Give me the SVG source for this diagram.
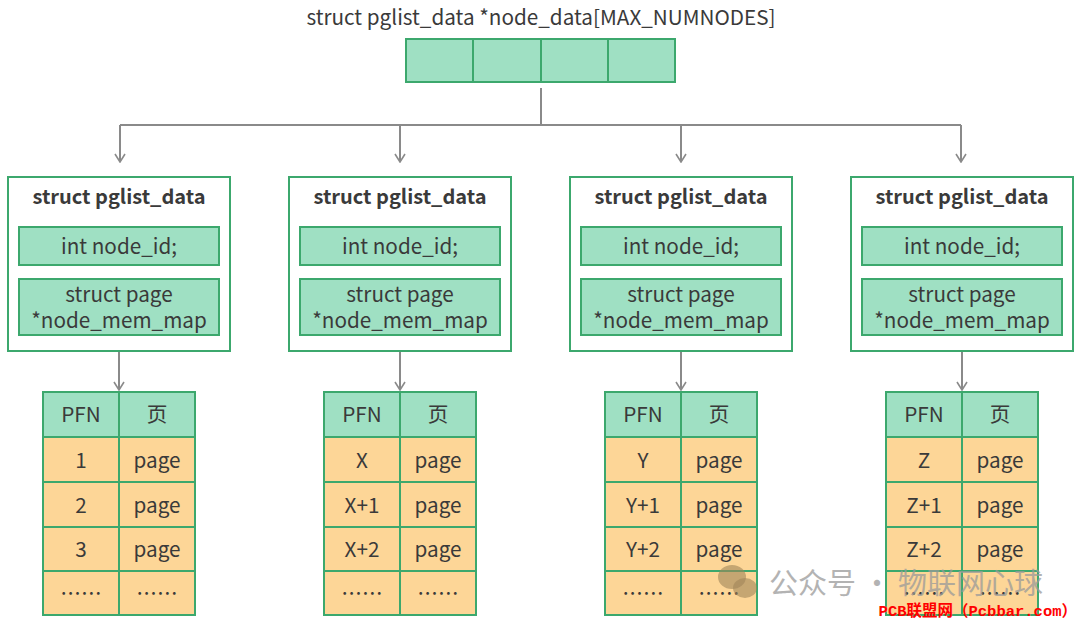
<svg xmlns="http://www.w3.org/2000/svg" width="1080" height="627" viewBox="0 0 1080 627">
<defs>
<style>
text{font-family:"Noto Sans CJK SC","Noto Sans",sans-serif;fill:#3a3a3a;font-size:20.7px;text-anchor:middle;dominant-baseline:central}
.b{font-weight:bold;font-size:20px}
.g{fill:#9fe0c3;stroke:#3ca86d;stroke-width:2}
.o{fill:#fdd697;stroke:#3ca86d;stroke-width:2}
.w{fill:#fff;stroke:#3ca86d;stroke-width:2}
.c{fill:none;stroke:#8a8a8a;stroke-width:2}
.wm{fill:#9a9a9a;opacity:0.75;font-size:29px}
.red{fill:#ff0000;font-family:"Liberation Mono","DejaVu Sans Mono","Noto Sans CJK SC",monospace;font-size:15.5px;font-weight:bold;text-anchor:end}
</style>
<marker id="ad" viewBox="0 0 12 12" refX="6" refY="11" markerWidth="12" markerHeight="12" markerUnits="userSpaceOnUse" orient="0">
<path d="M1 3 L6 11 L11 3" fill="none" stroke="#8a8a8a" stroke-width="1.6"/>
</marker>
</defs>
<rect width="1080" height="627" fill="#fff"/>

<g id="array">
<text x="541" y="16">struct pglist_data *node_data[MAX_NUMNODES]</text>
<rect class="g" x="406" y="39" width="269" height="43"/>
<line x1="473" y1="39" x2="473" y2="82" stroke="#3ca86d" stroke-width="2"/>
<line x1="541" y1="39" x2="541" y2="82" stroke="#3ca86d" stroke-width="2"/>
<line x1="608" y1="39" x2="608" y2="82" stroke="#3ca86d" stroke-width="2"/>
</g>

<g id="connectors">
<path class="c" d="M541 88 V125"/>
<path class="c" d="M120 125 H961"/>
<path class="c" d="M120 125 V162" marker-end="url(#ad)"/>
<path class="c" d="M400 125 V162" marker-end="url(#ad)"/>
<path class="c" d="M681 125 V162" marker-end="url(#ad)"/>
<path class="c" d="M961 125 V162" marker-end="url(#ad)"/>
<path class="c" d="M119 336 V390" marker-end="url(#ad)"/>
<path class="c" d="M400 336 V390" marker-end="url(#ad)"/>
<path class="c" d="M681 336 V390" marker-end="url(#ad)"/>
<path class="c" d="M962 336 V390" marker-end="url(#ad)"/>
</g>

<g id="node0">
<rect class="w" x="8" y="177" width="222" height="174"/>
<text class="b" x="119" y="195">struct pglist_data</text>
<rect class="g" x="19" y="227" width="200" height="38"/>
<text x="119" y="245">int node_id;</text>
<rect class="g" x="19" y="279" width="200" height="56"/>
<text x="119" y="293">struct page</text>
<text x="119" y="319">*node_mem_map</text>
</g>
<g id="node1">
<rect class="w" x="289" y="177" width="222" height="174"/>
<text class="b" x="400" y="195">struct pglist_data</text>
<rect class="g" x="300" y="227" width="200" height="38"/>
<text x="400" y="245">int node_id;</text>
<rect class="g" x="300" y="279" width="200" height="56"/>
<text x="400" y="293">struct page</text>
<text x="400" y="319">*node_mem_map</text>
</g>
<g id="node2">
<rect class="w" x="570" y="177" width="222" height="174"/>
<text class="b" x="681" y="195">struct pglist_data</text>
<rect class="g" x="581" y="227" width="200" height="38"/>
<text x="681" y="245">int node_id;</text>
<rect class="g" x="581" y="279" width="200" height="56"/>
<text x="681" y="293">struct page</text>
<text x="681" y="319">*node_mem_map</text>
</g>
<g id="node3">
<rect class="w" x="851" y="177" width="222" height="174"/>
<text class="b" x="962" y="195">struct pglist_data</text>
<rect class="g" x="862" y="227" width="200" height="38"/>
<text x="962" y="245">int node_id;</text>
<rect class="g" x="862" y="279" width="200" height="56"/>
<text x="962" y="293">struct page</text>
<text x="962" y="319">*node_mem_map</text>
</g>

<g id="table0">
<rect class="g" x="43" y="392" width="76" height="45"/><rect class="g" x="119" y="392" width="76" height="45"/>
<rect class="o" x="43" y="437" width="76" height="45"/><rect class="o" x="119" y="437" width="76" height="45"/>
<rect class="o" x="43" y="482" width="76" height="45"/><rect class="o" x="119" y="482" width="76" height="45"/>
<rect class="o" x="43" y="527" width="76" height="44"/><rect class="o" x="119" y="527" width="76" height="44"/>
<rect class="o" x="43" y="571" width="76" height="44"/><rect class="o" x="119" y="571" width="76" height="44"/>
<text x="81" y="413">PFN</text><text x="157" y="413">页</text>
<text x="81" y="459">1</text><text x="157" y="459">page</text>
<text x="81" y="504">2</text><text x="157" y="504">page</text>
<text x="81" y="548">3</text><text x="157" y="548">page</text>
<text x="81" y="592">……</text><text x="157" y="592">……</text>
</g>
<g id="table1">
<rect class="g" x="324" y="392" width="76" height="45"/><rect class="g" x="400" y="392" width="76" height="45"/>
<rect class="o" x="324" y="437" width="76" height="45"/><rect class="o" x="400" y="437" width="76" height="45"/>
<rect class="o" x="324" y="482" width="76" height="45"/><rect class="o" x="400" y="482" width="76" height="45"/>
<rect class="o" x="324" y="527" width="76" height="44"/><rect class="o" x="400" y="527" width="76" height="44"/>
<rect class="o" x="324" y="571" width="76" height="44"/><rect class="o" x="400" y="571" width="76" height="44"/>
<text x="362" y="413">PFN</text><text x="438" y="413">页</text>
<text x="362" y="459">X</text><text x="438" y="459">page</text>
<text x="362" y="504">X+1</text><text x="438" y="504">page</text>
<text x="362" y="548">X+2</text><text x="438" y="548">page</text>
<text x="362" y="592">……</text><text x="438" y="592">……</text>
</g>
<g id="table2">
<rect class="g" x="605" y="392" width="76" height="45"/><rect class="g" x="681" y="392" width="76" height="45"/>
<rect class="o" x="605" y="437" width="76" height="45"/><rect class="o" x="681" y="437" width="76" height="45"/>
<rect class="o" x="605" y="482" width="76" height="45"/><rect class="o" x="681" y="482" width="76" height="45"/>
<rect class="o" x="605" y="527" width="76" height="44"/><rect class="o" x="681" y="527" width="76" height="44"/>
<rect class="o" x="605" y="571" width="76" height="44"/><rect class="o" x="681" y="571" width="76" height="44"/>
<text x="643" y="413">PFN</text><text x="719" y="413">页</text>
<text x="643" y="459">Y</text><text x="719" y="459">page</text>
<text x="643" y="504">Y+1</text><text x="719" y="504">page</text>
<text x="643" y="548">Y+2</text><text x="719" y="548">page</text>
<text x="643" y="592">……</text><text x="719" y="592">……</text>
</g>
<g id="table3">
<rect class="g" x="886" y="392" width="76" height="45"/><rect class="g" x="962" y="392" width="76" height="45"/>
<rect class="o" x="886" y="437" width="76" height="45"/><rect class="o" x="962" y="437" width="76" height="45"/>
<rect class="o" x="886" y="482" width="76" height="45"/><rect class="o" x="962" y="482" width="76" height="45"/>
<rect class="o" x="886" y="527" width="76" height="44"/><rect class="o" x="962" y="527" width="76" height="44"/>
<rect class="o" x="886" y="571" width="76" height="44"/><rect class="o" x="962" y="571" width="76" height="44"/>
<text x="924" y="413">PFN</text><text x="1000" y="413">页</text>
<text x="924" y="459">Z</text><text x="1000" y="459">page</text>
<text x="924" y="504">Z+1</text><text x="1000" y="504">page</text>
<text x="924" y="548">Z+2</text><text x="1000" y="548">page</text>
<text x="924" y="592">……</text><text x="1000" y="592">……</text>
</g>

<g id="watermark">
<ellipse cx="732" cy="577" rx="14" ry="12" fill="#a0865a" opacity="0.6"/>
<ellipse cx="745" cy="588" rx="12" ry="10" fill="#a0865a" opacity="0.6"/>
<text class="wm" x="906" y="581">公众号 · 物联网心球</text>
<text class="red" x="1077" y="612">PCB联盟网（Pcbbar.com）</text>
</g>
</svg>
